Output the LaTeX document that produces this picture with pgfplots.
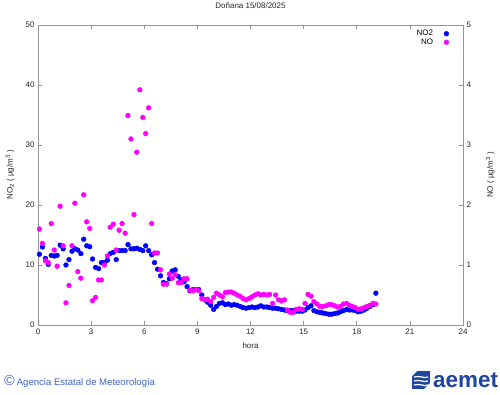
\documentclass[border=0pt]{standalone}
\usepackage{fontspec}
\setmainfont{Liberation Sans}
\usepackage{pgfplots}
\pgfplotsset{compat=1.18}
\usepackage{pgfplotstable}
\definecolor{no2c}{RGB}{0,0,255}
\definecolor{noc}{RGB}{255,0,255}
\definecolor{axgray}{RGB}{150,150,150}
\definecolor{aemetblue}{RGB}{60,100,200}
\definecolor{logoblue}{RGB}{30,70,160}

% h = hour, no2 in ug/m3 (left axis), no in ug/m3 (right axis)
\pgfplotstableread{
h no2 no
0.08 11.8 1.60
0.25 13.0 1.36
0.42 11.1 1.07
0.58 10.1 1.04
0.75 11.6 1.69
0.92 11.5 1.25
1.08 11.6 0.98
1.25 13.3 1.98
1.42 12.7 1.32
1.58 10.0 0.37
1.75 10.9 0.66
1.92 12.3 1.32
2.08 12.7 2.03
2.25 12.5 0.89
2.42 11.9 0.78
2.58 14.3 2.17
2.75 13.2 1.72
2.92 13.05 1.61
3.08 11.0 0.405
3.25 9.6 0.46
3.42 9.4 0.75
3.58 10.4 0.75
3.75 10.4 1.00
3.92 10.8 1.15
4.08 11.9 1.63
4.25 12.1 1.68
4.42 10.9 1.25
4.58 12.4 1.58
4.75 12.4 1.69
4.92 12.4 1.53
5.08 13.4 3.49
5.25 12.7 3.10
5.42 12.7 1.84
5.58 12.8 2.88
5.75 12.6 3.92
5.92 12.4 3.46
6.08 13.2 3.19
6.25 12.4 3.62
6.42 11.7 1.69
6.58 10.4 1.20
6.75 9.3 1.20
6.92 8.2 0.92
7.08 7.1 0.68
7.25 6.9 0.68
7.42 7.7 0.85
7.58 9.0 0.78
7.75 9.2 0.84
7.92 8.1 0.705
8.08 7.5 0.705
8.25 7.2 0.77
8.42 6.4 0.77
8.58 5.7 0.58
8.75 5.9 0.57
8.92 5.9 0.59
9.08 5.9 0.57
9.25 5.0 0.44
9.42 4.2 0.42
9.58 3.8 0.43
9.75 3.3 0.39
9.92 2.6 0.46
10.08 3.1 0.53
10.25 3.6 0.50
10.42 3.7 0.47
10.58 3.4 0.54
10.75 3.5 0.55
10.92 3.3 0.55
11.08 3.4 0.53
11.25 3.3 0.50
11.42 3.1 0.48
11.58 2.9 0.44
11.75 2.8 0.42
11.92 2.9 0.44
12.08 3.0 0.47
12.25 2.9 0.50
12.42 3.0 0.52
12.58 3.2 0.50
12.75 3.0 0.51
12.92 3.0 0.50
13.08 2.9 0.51
13.25 2.8 0.36
13.42 2.8 0.50
13.58 2.7 0.42
13.75 2.6 0.40
13.92 2.5 0.42
14.08 2.4 0.25
14.25 2.4 0.21
14.42 2.4 0.21
14.58 2.3 0.26
14.75 2.3 0.27
14.92 2.3 0.26
15.08 2.5 0.36
15.25 2.9 0.51
15.42 3.2 0.48
15.58 2.4 0.39
15.75 2.2 0.35
15.92 2.1 0.31
16.08 2.0 0.31
16.25 1.9 0.32
16.42 1.8 0.34
16.58 1.8 0.34
16.75 1.9 0.32
16.92 2.0 0.30
17.08 2.2 0.31
17.25 2.4 0.35
17.42 2.6 0.36
17.58 2.5 0.33
17.75 2.5 0.31
17.92 2.4 0.29
18.08 2.2 0.26
18.25 2.3 0.27
18.42 2.5 0.29
18.58 2.8 0.31
18.75 3.1 0.33
18.92 3.4 0.36
19.08 5.3 0.35
}\datatab

\pgfplotsset{
  common/.style={
    at={(0,0)}, anchor=south west,
    scale only axis, width=425bp, height=300bp,
    xmin=0, xmax=24,
    tick align=inside,
    major tick length=4bp,
    axis line style={axgray, line width=0.8pt},
    tick style={axgray, line width=0.6pt},
    ticklabel style={font=\fontsize{8}{9.6}\selectfont, text=black!85},
    label style={font=\fontsize{8}{9.6}\selectfont, text=black!85},
    /pgf/number format/assume math mode=true,
  }
}

\begin{document}
\begin{tikzpicture}
\useasboundingbox (-38bp,-70bp) rectangle (462bp,325bp);
\begin{axis}[common,
  ymin=0, ymax=50,
  xtick={0,3,...,24}, xtick pos=both,
  ytick={0,10,...,50}, ytick pos=left,
  xlabel={hora},
  ylabel={NO\textsubscript{2} ( µg/m\textsuperscript{3} )},
  xlabel style={at={(axis description cs:0.5,-0.07)}, anchor=center},
  ylabel style={at={(axis description cs:-0.066,0.5)}, anchor=center},
  title={Doñana 15/08/2025},
  title style={at={(axis description cs:0.5,1.043)}, anchor=center, font=\fontsize{8}{9.6}\selectfont, text=black!85},
]
\addplot[only marks, mark=*, mark size=2.4bp, color=no2c] table[x=h, y=no2] {\datatab};
\end{axis}
\begin{axis}[common,
  ymin=0, ymax=5,
  axis x line=none,
  axis y line*=right,
  ytick={0,1,...,5},
  ylabel={NO ( µg/m\textsuperscript{3} )},
  ylabel style={at={(axis description cs:1.064,0.5)}, anchor=center},
  legend style={at={(axis description cs:1,1)}, anchor=north east, xshift=-13bp, yshift=-2bp,
     draw=none, fill=none, font=\fontsize{8}{9.6}\selectfont, row sep=-2.5bp,
     column sep=9bp, inner sep=1pt},
  legend plot pos=right,
  legend cell align=right,
]
\addlegendimage{only marks, mark=*, mark size=2.4bp, color=no2c}
\addlegendentry{NO2}
\addplot[only marks, mark=*, mark size=2.4bp, color=noc] table[x=h, y=no] {\datatab};
\addlegendentry{NO}
\end{axis}
% footer
\node[anchor=west, text=aemetblue, inner sep=0pt] at (-34bp,-56bp)
  {\fontsize{14.5}{14}\selectfont ©\hspace{2bp}\fontsize{9.6}{10}\selectfont Agencia Estatal de Meteorología};
% logo
\begin{scope}[shift={(381bp,-55bp)}]
  \fill[logoblue] (-7bp,-9bp) rectangle (11bp,9bp);
  \foreach \yy in {-5,-1,3}{\draw[white, line width=1.2bp] (-5bp,\yy bp) .. controls (1bp,\yy bp+2bp) and (5bp,\yy bp-2bp) .. (9bp,\yy bp);}
  \fill[white] (-7bp,9bp) -- (-2bp,9bp) -- (-7bp,4bp) -- cycle;
  \fill[white] (11bp,-9bp) -- (5bp,-9bp) -- (11bp,-3bp) -- cycle;
\end{scope}
\node[anchor=west, text=logoblue, inner sep=0pt] at (395bp,-55bp)
  {\fontsize{22.5}{22}\selectfont\bfseries aemet};
\end{tikzpicture}
\end{document}
